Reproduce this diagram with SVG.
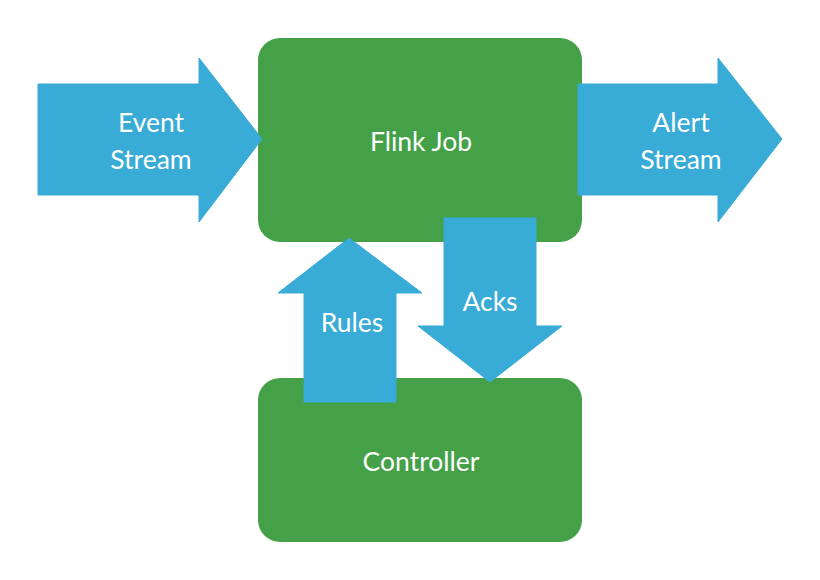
<svg xmlns="http://www.w3.org/2000/svg" width="820" height="580" viewBox="0 0 820 580">
<style>
.box{fill:#44a148}
.arr{fill:#38abd6;stroke:#38abd6;stroke-width:1;stroke-linejoin:round}
.t{font-family:Lato,"Liberation Sans",sans-serif;font-size:26.5px;fill:#ffffff;text-anchor:middle}
</style>
<rect width="820" height="580" fill="#ffffff"/>
<g id="flink-job">
<rect class="box" x="258" y="38" width="324" height="204" rx="22" ry="22"/>
<text class="t" x="421" y="151">Flink Job</text>
</g>
<g id="controller">
<rect class="box" x="258" y="378" width="324" height="164" rx="22" ry="22"/>
<text class="t" x="421" y="471">Controller</text>
</g>
<g id="connectors">
<g id="event-stream">
<polygon class="arr" points="38,84 199,84 199,58 262,139 199,222 199,195 38,195"/>
<text class="t" x="151" y="132">Event</text>
<text class="t" x="151" y="169">Stream</text>
</g>
<g id="alert-stream">
<polygon class="arr" points="578,84 718,84 718,58 782,139 718,222 718,195 578,195"/>
<text class="t" x="681" y="132">Alert</text>
<text class="t" x="681" y="169">Stream</text>
</g>
<g id="rules">
<polygon class="arr" points="304,402 304,293 278,293 349,238 422,293 396,293 396,402"/>
<text class="t" x="352" y="332">Rules</text>
</g>
<g id="acks">
<polygon class="arr" points="444,218 536,218 536,326 562,326 490,382 418,326 444,326"/>
<text class="t" x="490" y="311">Acks</text>
</g>
</g>
</svg>
